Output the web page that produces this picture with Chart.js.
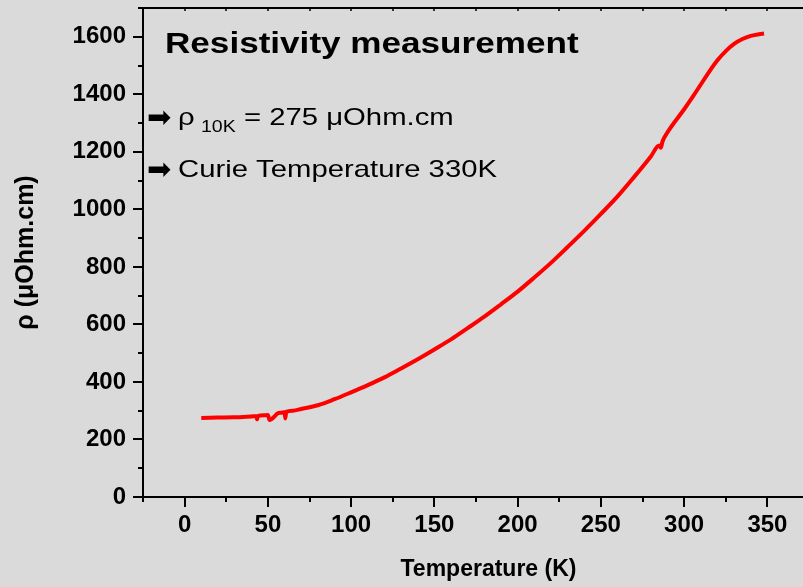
<!DOCTYPE html>
<html>
<head>
<meta charset="utf-8">
<script src="https://cdn.jsdelivr.net/npm/chart.js@4/dist/chart.umd.min.js"></script>
<style>
    html, body { margin: 0; padding: 0; background: #dadada; overflow: hidden; }
    #wrap { width: 803px; height: 587px; overflow: hidden; }
    canvas { display: block; }
</style>
</head>
<body>
<div id="wrap"><canvas id="chart" width="834" height="587"></canvas></div>
<script>
// temperature (K) and resistivity (µOhm.cm)
const temperature = [10, 20, 30, 40, 43, 43.5, 44, 48, 50, 51, 52, 54, 56, 58, 60, 60.5, 61, 65, 70, 80,
    90, 100, 110, 120, 130, 140, 150, 160, 170, 180, 190, 200, 210, 220, 230, 240, 250, 260, 270, 280,
    285, 286, 287, 290, 300, 305, 310, 315, 320, 325, 330, 335, 340, 345, 348];
const resistivity = [275, 276, 277, 280, 281, 270, 282, 284, 285, 268, 270, 280, 291, 293, 295, 273, 296, 300, 306, 319,
    340, 364, 389, 416, 447, 479, 513, 548, 587, 627, 670, 714, 763, 814, 869, 925, 984, 1045, 1113, 1184,
    1222, 1214, 1236, 1268, 1348, 1390, 1434, 1478, 1518, 1550, 1575, 1592, 1603, 1609, 1611];

const xTicks = [0, 50, 100, 150, 200, 250, 300, 350];
const yTicks = [0, 200, 400, 600, 800, 1000, 1200, 1400, 1600];

const font = 'Liberation Sans, Arial, DejaVu Sans, sans-serif';

// major/minor tick marks on every side of the frame
const frameTicks = {
    id: 'frameTicks',
    afterDraw(chart) {
        const {ctx, chartArea: a, scales: {x, y}} = chart;
        ctx.save();
        ctx.strokeStyle = '#000';
        ctx.lineWidth = 2;
        ctx.beginPath();
        for (let t = x.min; t <= x.max; t += 25) {
            const px = Math.round(x.getPixelForValue(t));
            ctx.moveTo(px, a.bottom);
            ctx.lineTo(px, a.bottom + (t % 50 === 0 ? 10 : 5));
        }
        for (let v = y.min; v <= y.max; v += 100) {
            const py = Math.round(y.getPixelForValue(v));
            ctx.moveTo(a.left, py);
            ctx.lineTo(a.left - (v % 200 === 0 ? 10 : 5), py);
        }
        ctx.stroke();
        ctx.lineWidth = 1.5;
        ctx.beginPath();
        for (let t = x.min; t <= x.max; t += 25) {
            const px = Math.round(x.getPixelForValue(t));
            ctx.moveTo(px, a.top);
            ctx.lineTo(px, a.top + 3);
        }
        ctx.stroke();
        ctx.restore();
    }
};

// heading and notes inside the plot
const notes = {
    id: 'notes',
    afterDraw(chart) {
        const ctx = chart.ctx;
        const put = (text, x, y, f, sx) => {
            ctx.font = f;
            ctx.save();
            ctx.translate(x, y);
            ctx.scale(sx, 1);
            ctx.fillText(text, 0, 0);
            ctx.restore();
        };
        ctx.save();
        ctx.fillStyle = '#000';
        ctx.textBaseline = 'alphabetic';
        put('Resistivity measurement', 165, 53, 'bold 30px ' + font, 1.17);
        put('\u27A1', 147, 127, '29px DejaVu Sans', 1);
        put('ρ', 178, 125, '24px ' + font, 1.22);
        put('10K', 201, 132, '16px ' + font, 1.22);
        put('= 275 μOhm.cm', 244, 125, '24px ' + font, 1.22);
        put('\u27A1', 147, 179, '29px DejaVu Sans', 1);
        put('Curie Temperature 330K', 178, 177, '24px ' + font, 1.22);
        ctx.restore();
    }
};

const points = temperature.map((t, i) => ({x: t, y: resistivity[i]}));
const plain = (v) => String(v);

new Chart(document.getElementById('chart'), {
    type: 'line',
    data: {
        datasets: [{
            data: points,
            borderColor: '#ff0000',
            borderWidth: 4,
            pointRadius: 0,
            cubicInterpolationMode: 'monotone',
            fill: false
        }]
    },
    options: {
        responsive: false,
        animation: false,
        layout: {padding: 0},
        plugins: {
            legend: {display: false},
            tooltip: {enabled: false}
        },
        scales: {
            x: {
                type: 'linear',
                position: 'bottom',
                min: -25,
                max: 390,
                afterBuildTicks: (scale) => { scale.ticks = xTicks.map(v => ({value: v})); },
                afterFit: (scale) => {
                    scale.height = 90;
                    scale.paddingLeft = 0;
                    scale.paddingRight = 0;
                },
                grid: {display: false, drawTicks: false},
                border: {display: true, color: '#000', width: 2},
                ticks: {
                    color: '#000',
                    autoSkip: false,
                    maxRotation: 0,
                    padding: 14,
                    callback: plain,
                    font: {family: font, size: 24, weight: 'bold'}
                },
                title: {
                    display: true,
                    text: 'Temperature (K)',
                    color: '#000',
                    padding: {top: 0, bottom: 4},
                    font: {family: font, size: 23, weight: 'bold'}
                }
            },
            xTop: {
                type: 'linear',
                position: 'top',
                min: -25,
                max: 390,
                afterFit: (scale) => {
                    scale.height = 8;
                    scale.paddingLeft = 0;
                    scale.paddingRight = 0;
                },
                grid: {display: false, drawTicks: false},
                border: {display: true, color: '#000', width: 2},
                ticks: {display: false}
            },
            y: {
                type: 'linear',
                min: 0,
                max: 1700,
                afterBuildTicks: (scale) => { scale.ticks = yTicks.map(v => ({value: v})); },
                afterFit: (scale) => {
                    scale.width = 143;
                    scale.paddingTop = 0;
                    scale.paddingBottom = 0;
                },
                grid: {display: false, drawTicks: false},
                border: {display: true, color: '#000', width: 2},
                ticks: {
                    color: '#000',
                    padding: 17,
                    callback: plain,
                    font: {family: font, size: 24, weight: 'bold'}
                },
                title: {
                    display: true,
                    text: 'ρ (μOhm.cm)',
                    color: '#000',
                    padding: {top: 11, bottom: 0},
                    font: {family: font, size: 25, weight: 'bold'}
                }
            }
        }
    },
    plugins: [frameTicks, notes]
});
</script>
</body>
</html>
